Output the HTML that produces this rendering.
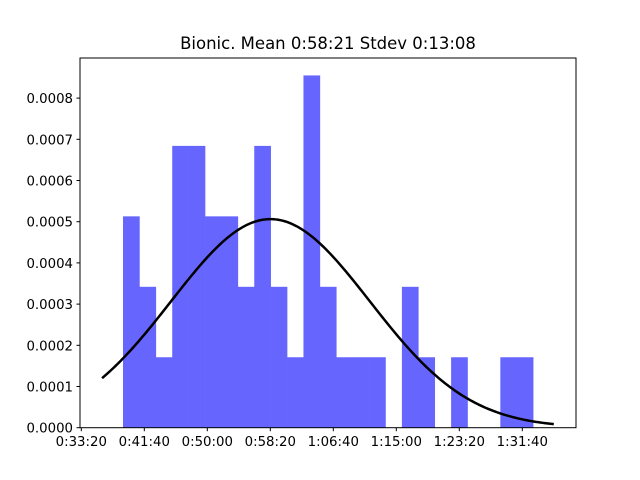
<!DOCTYPE html>
<html><head><meta charset="utf-8"><style>
body{margin:0;background:#fff;}
svg{display:block;font-family:"DejaVu Sans","Liberation Sans",sans-serif;}
</style></head><body>
<svg id="chart" width="640" height="480">
<rect width="640" height="480" fill="#fff"/>
<text x="328" y="49" font-size="16.5" text-anchor="middle">Bionic. Mean 0:58:21 Stdev 0:13:08</text>
<g id="bars"></g>
<g id="curve"></g>
<g id="axes"></g>
</svg>
<script>
const binStart = 2331;
const binWidth = 130.2;
const densities = [0.000513,0.000342,0.000171,0.000684,0.000684,0.000513,0.000513,0.000342,0.000684,0.000342,0.000171,0.000855,0.000342,0.000171,0.000171,0.000171,0,0.000342,0.000171,0,0.000171,0,0,0.000171,0.000171];
const meanSec = 3501;
const stdSec = 788;
const curveRange = [2165, 5750];
const xTicks = [2000,2500,3000,3500,4000,4500,5000,5500];
const xTickLabels = ["0:33:20","0:41:40","0:50:00","0:58:20","1:06:40","1:15:00","1:23:20","1:31:40"];
const yTicks = [0,0.0001,0.0002,0.0003,0.0004,0.0005,0.0006,0.0007,0.0008];
const yTickLabels = ["0.0000","0.0001","0.0002","0.0003","0.0004","0.0005","0.0006","0.0007","0.0008"];

const NS="http://www.w3.org/2000/svg";
const X=s=>81.3+(s-2000)*0.126;
const Y=v=>427.7-v*412000;
function mk(tag,attrs,parent){const e=document.createElementNS(NS,tag);for(const k in attrs)e.setAttribute(k,attrs[k]);parent.appendChild(e);return e;}

const bars=document.getElementById('bars');
densities.forEach((d,i)=>{
  if(d<=0)return;
  const x0=X(binStart+i*binWidth),x1=X(binStart+(i+1)*binWidth);
  const r=mk('rect',{x:x0,y:Y(d),width:x1-x0+0.3,height:Y(0)-Y(d),fill:'#6666ff'},bars);
  
  
});

const cg=document.getElementById('curve');
let pts=[];
for(let i=0;i<=200;i++){
  const s=curveRange[0]+(curveRange[1]-curveRange[0])*i/200;
  const v=Math.exp(-0.5*((s-meanSec)/stdSec)**2)/(stdSec*Math.sqrt(2*Math.PI));
  pts.push(X(s).toFixed(2)+','+Y(v).toFixed(2));
}
const pl=mk('polyline',{points:pts.join(' '),fill:'none',stroke:'#000','stroke-width':2.5},cg);



const ax=document.getElementById('axes');
const fr=mk('rect',{x:80,y:58,width:496,height:369.7,fill:'none',stroke:'#000','stroke-width':1},ax);


xTicks.forEach((t,i)=>{
  const x=X(t);
  mk('line',{x1:x,x2:x,y1:427.7,y2:431.2,stroke:'#000'},ax);
  const tx=mk('text',{x:x,y:446,'font-size':13.3,'text-anchor':'middle'},ax);
  tx.textContent=xTickLabels[i];
  
  
});
yTicks.forEach((t,i)=>{
  const y=Y(t);
  mk('line',{x1:76.5,x2:80,y1:y,y2:y,stroke:'#000'},ax);
  const tx=mk('text',{x:73,y:y+5,'font-size':13.3,'text-anchor':'end'},ax);
  tx.textContent=yTickLabels[i];
  
  
});
</script>
</body></html>
